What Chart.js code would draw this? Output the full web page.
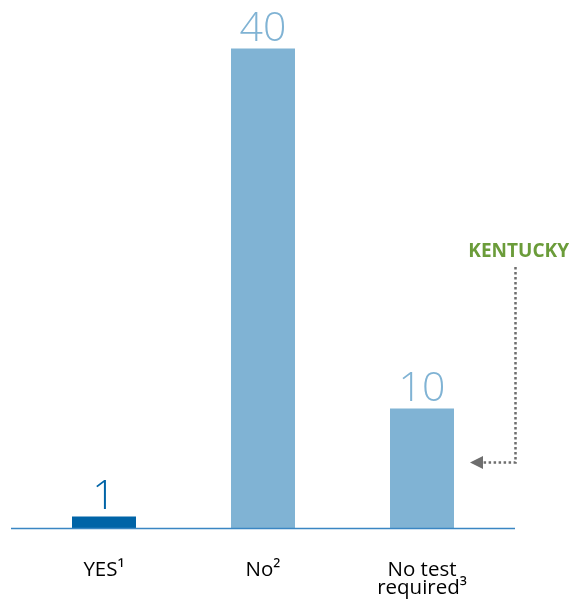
<!DOCTYPE html>
<html>
<head>
<meta charset="utf-8">
<script src="https://cdn.jsdelivr.net/npm/chart.js@4"></script>
<style>
  html, body { margin: 0; padding: 0; background: #fff; }
  #wrap { width: 571px; height: 607px; }
</style>
</head>
<body>
<div id="wrap"><canvas id="chart" width="571" height="607"></canvas></div>
<script>
// every label gets two lines so the first lines sit on the same level
const categories = [["YES\u00b9", ""], ["No\u00b2", ""], ["No test", "required\u00b3"]];
const counts = [1, 40, 10];
const barColors = ["#0064a7", "#80b3d4", "#80b3d4"];
const calloutText = "KENTUCKY";
const calloutIndex = 2;   // bar the arrow points at
const calloutValue = 5.5; // arrow height in data units
const calloutTop = 21.8;  // where the dotted line starts

// value numbers over each bar
const valueLabels = {
  id: "valueLabels",
  afterDatasetsDraw(chart) {
    const ctx = chart.ctx;
    const meta = chart.getDatasetMeta(0);
    ctx.save();
    ctx.font = "300 41px 'Open Sans'";
    ctx.textAlign = "center";
    ctx.textBaseline = "alphabetic";
    meta.data.forEach((bar, i) => {
      ctx.fillStyle = barColors[i];
      ctx.fillText(String(counts[i]), bar.x, bar.y - 8);
    });
    ctx.restore();
  }
};

// baseline running a little past the bars
const baseLine = {
  id: "baseLine",
  afterDatasetsDraw(chart) {
    const { ctx, chartArea } = chart;
    const y = chart.scales.y.getPixelForValue(0);
    ctx.save();
    ctx.strokeStyle = "#3a86c3";
    ctx.lineWidth = 1.5;
    ctx.beginPath();
    ctx.moveTo(chartArea.left - 13.5, y);
    ctx.lineTo(chartArea.right + 13.5, y);
    ctx.stroke();
    ctx.restore();
  }
};

// KENTUCKY callout with dotted elbow arrow
const callout = {
  id: "callout",
  afterDraw(chart) {
    const ctx = chart.ctx;
    const bar = chart.getDatasetMeta(0).data[calloutIndex];
    const ys = chart.scales.y;
    const tipX = bar.x + bar.width / 2 + 16;
    const lineX = chart.chartArea.right + 14;
    const arrowY = ys.getPixelForValue(calloutValue);
    const topY = ys.getPixelForValue(calloutTop);
    ctx.save();
    ctx.fillStyle = "#6b9c3a";
    ctx.font = "bold 19px 'Open Sans'";
    ctx.textAlign = "right";
    ctx.textBaseline = "alphabetic";
    ctx.fillText(calloutText, 569, topY - 10);

    ctx.strokeStyle = "#6e6e6e";
    ctx.lineWidth = 2.5;
    ctx.setLineDash([2.5, 2.5]);
    ctx.beginPath();
    ctx.moveTo(lineX, topY);
    ctx.lineTo(lineX, arrowY);
    ctx.lineTo(tipX + 12, arrowY);
    ctx.stroke();
    ctx.setLineDash([]);
    ctx.fillStyle = "#6e6e6e";
    ctx.beginPath();
    ctx.moveTo(tipX, arrowY);
    ctx.lineTo(tipX + 13, arrowY - 6.5);
    ctx.lineTo(tipX + 13, arrowY + 6.5);
    ctx.closePath();
    ctx.fill();
    ctx.restore();
  }
};

new Chart(document.getElementById("chart"), {
  type: "bar",
  data: {
    labels: categories,
    datasets: [{
      data: counts,
      backgroundColor: barColors,
      borderWidth: 0,
      barPercentage: 0.4025,
      categoryPercentage: 1
    }]
  },
  options: {
    responsive: false,
    animation: false,
    layout: { padding: { left: 24.5, right: 69.5, top: 0.5, bottom: 0 } },
    plugins: {
      legend: { display: false },
      tooltip: { enabled: false }
    },
    scales: {
      x: {
        grid: { display: false },
        border: { display: false },
        ticks: {
          color: "#000",
          font: { family: "'Open Sans'", size: 20.5, lineHeight: 0.86 },
          padding: 25,
          maxRotation: 0,
          autoSkip: false
        },
        afterFit(scale) { scale.height = 78.5; }
      },
      y: {
        display: false,
        min: 0,
        max: 44
      }
    }
  },
  plugins: [valueLabels, baseLine, callout]
});
</script>
</body>
</html>
